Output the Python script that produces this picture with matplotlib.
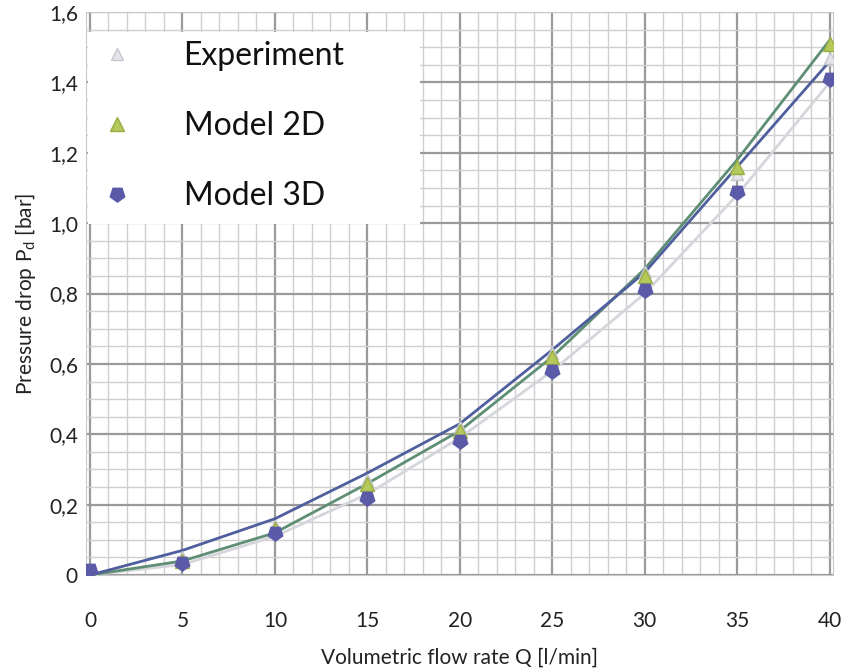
import numpy as np
import matplotlib
matplotlib.use("Agg")
from matplotlib import pyplot as plt
from matplotlib.patches import Rectangle
from matplotlib.ticker import MultipleLocator

plt.rcParams['font.family'] = ['Lato', 'DejaVu Sans']

q = [0, 5, 10, 15, 20, 25, 30, 35, 40]
exp_p = [0.0, 0.05, 0.14, 0.27, 0.42, 0.63, 0.86, 1.14, 1.47]
m2d_p = [0.005, 0.04, 0.13, 0.26, 0.41, 0.62, 0.85, 1.16, 1.51]
m3d_p = [0.015, 0.035, 0.12, 0.22, 0.38, 0.58, 0.81, 1.09, 1.41]

# trend lines
exp_line = [0.0, 0.03, 0.11, 0.23, 0.39, 0.58, 0.80, 1.08, 1.40]
m2d_line = [0.0, 0.04, 0.12, 0.26, 0.41, 0.62, 0.87, 1.18, 1.52]
m3d_line = [0.0, 0.07, 0.16, 0.29, 0.43, 0.64, 0.86, 1.16, 1.46]

yticks = [0, 0.2, 0.4, 0.6, 0.8, 1.0, 1.2, 1.4, 1.6]
yticklabels = ['0', '0,2', '0,4', '0,6', '0,8', '1,0', '1,2', '1,4', '1,6']
xticks = [0, 5, 10, 15, 20, 25, 30, 35, 40]

fig = plt.figure(figsize=(8.46, 6.71), dpi=100)
ax = fig.add_axes([0.102, 0.143, 0.883, 0.839])

ax.plot(q, exp_line, color='#d4d6dc', lw=2.0, zorder=3)
ax.plot(q, m2d_line, color='#5e8e74', lw=2.0, zorder=3)
ax.plot(q, m3d_line, color='#4f5f9e', lw=2.0, zorder=3)

ax.plot(q, exp_p, ls='none', marker='^', ms=9, mfc='#e4e4ea', mec='#c4c6d0',
        label='Experiment', zorder=4)
ax.plot(q, m2d_p, ls='none', marker='^', ms=10, mfc='#b4c95a', mec='#9aae44',
        label='Model 2D', zorder=5)
ax.plot(q, m3d_p, ls='none', marker=(5, 0, 180), ms=11, mfc='#5a5aa8',
        mec='#5a5aa8', label='Model 3D', zorder=6)

ax.set_xlim(-0.2, 40.2)
ax.set_ylim(0, 1.6)
ax.set_xticks(xticks)
ax.set_xticklabels([str(v) for v in xticks])
ax.set_yticks(yticks)
ax.set_yticklabels(yticklabels)
ax.xaxis.set_minor_locator(MultipleLocator(1))
ax.yaxis.set_minor_locator(MultipleLocator(0.05))
ax.grid(which='major', color='#9a9a9a', lw=1.6)
ax.grid(which='minor', color='#cfcfcf', lw=1.0)
ax.set_axisbelow(True)
for s in ax.spines.values():
    s.set_color('#c8c8c8')
ax.tick_params(which='both', length=0)
ax.tick_params(axis='x', labelsize=15, pad=26, colors='#222222')
ax.tick_params(axis='y', labelsize=15, pad=6, colors='#222222')

ax.set_xlabel('Volumetric flow rate Q [l/min]', fontsize=15, labelpad=12,
              color='#222222')
ax.set_ylabel('Pressure drop P$_\\mathregular{d}$ [bar]', fontsize=15,
              labelpad=8, color='#222222')

# white area behind the legend, wider than the legend itself
ax.add_patch(Rectangle((88 / 846, 1 - 224 / 671), 332 / 846, 192 / 671,
                       transform=fig.transFigure, facecolor='white',
                       edgecolor='none', zorder=2))

leg = ax.legend(loc='upper left', bbox_to_anchor=(0.002, 0.965), fontsize=23,
                frameon=True, fancybox=False, framealpha=1.0,
                edgecolor='white', handlelength=1.2, handletextpad=1.5,
                labelspacing=1.25, borderpad=0.3, borderaxespad=0.0)
leg.get_frame().set_linewidth(0)
leg.set_zorder(10)
for t in leg.get_texts():
    t.set_color('#111111')

fig.savefig('out.png', dpi=100)
